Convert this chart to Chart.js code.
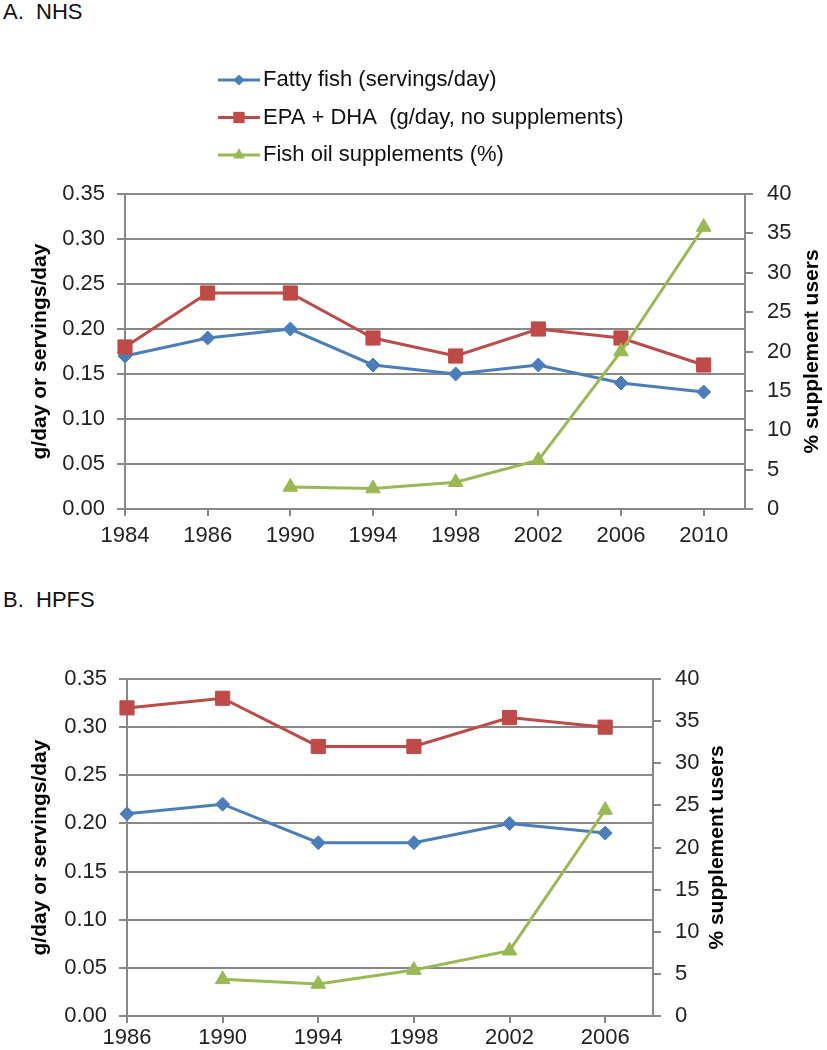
<!DOCTYPE html>
<html>
<head>
<meta charset="utf-8">
<title>Fish intake trends, NHS and HPFS</title>
<script src="https://cdn.jsdelivr.net/npm/chart.js@4.4.1/dist/chart.umd.min.js"></script>
<style>
  html, body { margin: 0; padding: 0; background: #fff; }
  body { width: 827px; height: 1050px; position: relative; overflow: hidden;
         font-family: "Liberation Sans", Arial, sans-serif; }
  .panel-label { position: absolute; left: 3px; font-size: 22px; line-height: 26px;
                 color: #111; white-space: pre; }
  .box { position: absolute; left: 0; width: 827px; }
</style>
</head>
<body>
<div class="panel-label" style="top:-1px">A.  NHS</div>
<div class="box" style="top:0;height:560px"><canvas id="chartA" width="827" height="560"></canvas></div>
<div class="panel-label" style="top:587px">B.  HPFS</div>
<div class="box" style="top:560px;height:490px"><canvas id="chartB" width="827" height="490"></canvas></div>

<script>
// --- data ---
const seriesNames = ['Fatty fish (servings/day)', 'EPA + DHA  (g/day, no supplements)', 'Fish oil supplements (%)'];

const yearsA = ['1984', '1986', '1990', '1994', '1998', '2002', '2006', '2010'];
const fattyFishA = [0.17, 0.19, 0.20, 0.16, 0.15, 0.16, 0.14, 0.13];
const epaDhaA = [0.18, 0.24, 0.24, 0.19, 0.17, 0.20, 0.19, 0.16];
const fishOilA = [null, null, 2.8, 2.6, 3.4, 6.2, 20.0, 35.8];

const yearsB = ['1986', '1990', '1994', '1998', '2002', '2006'];
const fattyFishB = [0.21, 0.22, 0.18, 0.18, 0.20, 0.19];
const epaDhaB = [0.32, 0.33, 0.28, 0.28, 0.31, 0.30];
const fishOilB = [null, 4.35, 3.8, 5.45, 7.75, 24.45];

const leftTicks = [0, 0.05, 0.10, 0.15, 0.20, 0.25, 0.30, 0.35];
const rightTicks = [0, 5, 10, 15, 20, 25, 30, 35, 40];

const FONT = '"Liberation Sans", Arial, sans-serif';
const GRID = '#888888';
const colors = ['#4A7EBB', '#BE4B48', '#98B954'];
const markers = ['rectRot', 'rect', 'triangle'];

function drawMarker(ctx, style, x, y, r) {
  ctx.beginPath();
  if (style === 'rectRot') {
    ctx.moveTo(x, y - r); ctx.lineTo(x + r, y); ctx.lineTo(x, y + r); ctx.lineTo(x - r, y);
  } else if (style === 'rect') {
    const s = r * Math.SQRT1_2;
    ctx.rect(x - s, y - s, 2 * s, 2 * s);
  } else {
    const h = r * Math.sqrt(3) / 2;
    ctx.moveTo(x, y - r); ctx.lineTo(x + h, y + r / 2); ctx.lineTo(x - h, y + r / 2);
  }
  ctx.closePath();
  ctx.fill();
}

// axis titles (reading bottom to top on both sides) and the stacked legend
const decorations = {
  id: 'decorations',
  afterDraw(chart, args, opts) {
    const ctx = chart.ctx;
    const area = chart.chartArea;
    const midY = (area.top + area.bottom) / 2;
    ctx.save();
    ctx.fillStyle = '#000';
    ctx.font = 'bold 21px ' + FONT;
    ctx.textAlign = 'center';
    ctx.textBaseline = 'middle';
    [[opts.leftTitleX, 'g/day or servings/day'], [opts.rightTitleX, '% supplement users']].forEach(function (t) {
      ctx.save();
      ctx.translate(t[0], midY);
      ctx.rotate(-Math.PI / 2);
      ctx.fillText(t[1], 0, 0);
      ctx.restore();
    });

    if (opts.legend) {
      const lg = opts.legend;
      ctx.font = '22px ' + FONT;
      ctx.textAlign = 'left';
      chart.data.datasets.forEach(function (ds, i) {
        const y = lg.y0 + i * lg.gap;
        ctx.strokeStyle = ds.borderColor;
        ctx.lineWidth = 3;
        ctx.beginPath();
        ctx.moveTo(lg.x0, y);
        ctx.lineTo(lg.x1, y);
        ctx.stroke();
        ctx.fillStyle = ds.backgroundColor;
        drawMarker(ctx, ds.pointStyle, (lg.x0 + lg.x1) / 2, y, ds.pointRadius * 0.8);
        ctx.fillStyle = '#111';
        ctx.fillText(ds.label, lg.x1 + 3, y);
      });
    }
    ctx.restore();
  }
};

function makeChart(id, years, fatty, epa, oil, L) {
  const series = [fatty, epa, oil];
  const radii = [7, 10, 8.5];
  const datasets = series.map(function (values, k) {
    return {
      label: seriesNames[k],
      data: years.map(function (_, i) { return { x: i, y: values[i] }; }),
      yAxisID: k === 2 ? 'y1' : 'y',
      borderColor: colors[k],
      backgroundColor: colors[k],
      borderWidth: 3,
      pointStyle: markers[k],
      pointRadius: radii[k],
      pointBorderWidth: 1,
      pointBorderColor: colors[k],
      pointBackgroundColor: colors[k],
      tension: 0,
      spanGaps: false,
      clip: false,
      order: 3 - k
    };
  });

  const tickFont = { family: FONT, size: 22 };

  return new Chart(document.getElementById(id), {
    type: 'line',
    data: { datasets: datasets },
    options: {
      responsive: false,
      animation: false,
      layout: { padding: { top: L.top, bottom: L.bottom, left: 0, right: 0 } },
      plugins: {
        legend: { display: false },
        tooltip: { enabled: false },
        decorations: { leftTitleX: L.leftTitleX, rightTitleX: L.rightTitleX, legend: L.legend }
      },
      scales: {
        x: {
          type: 'linear',
          min: 0,
          max: years.length - 0.5,
          afterBuildTicks: function (s) { s.ticks = years.map(function (_, i) { return { value: i }; }); },
          ticks: {
            callback: function (v) { return years[v]; },
            font: tickFont, color: '#222', padding: L.xPad, maxRotation: 0, autoSkip: false
          },
          grid: { drawOnChartArea: false, drawTicks: true, tickLength: 7, color: GRID, lineWidth: 2 },
          border: { color: GRID, width: 2 },
          afterFit: function (s) { s.height = L.xHeight; }
        },
        y: {
          position: 'left',
          min: leftTicks[0],
          max: leftTicks[leftTicks.length - 1],
          afterBuildTicks: function (s) { s.ticks = leftTicks.map(function (v) { return { value: v }; }); },
          ticks: { callback: function (v) { return v.toFixed(2); }, font: tickFont, color: '#222', padding: 12 },
          grid: { color: GRID, lineWidth: 2, tickLength: 8, drawTicks: true },
          border: { color: GRID, width: 2 },
          afterFit: function (s) { s.width = L.left; }
        },
        y1: {
          position: 'right',
          min: rightTicks[0],
          max: rightTicks[rightTicks.length - 1],
          afterBuildTicks: function (s) { s.ticks = rightTicks.map(function (v) { return { value: v }; }); },
          ticks: { callback: function (v) { return String(v); }, font: tickFont, color: '#222', padding: 14 },
          grid: { drawOnChartArea: false, color: GRID, lineWidth: 2, tickLength: 8, drawTicks: true },
          border: { color: GRID, width: 2 },
          afterFit: function (s) { s.width = L.right; }
        }
      }
    },
    plugins: [decorations]
  });
}

makeChart('chartA', yearsA, fattyFishA, epaDhaA, fishOilA, {
  top: 194, bottom: 6, xHeight: 45, xPad: 7, left: 125, right: 82,
  leftTitleX: 40, rightTitleX: 812,
  legend: { x0: 218, x1: 260, y0: 80, gap: 37.5 }
});

makeChart('chartB', yearsB, fattyFishB, epaDhaB, fishOilB, {
  top: 119, bottom: 4, xHeight: 30, xPad: 2, left: 127, right: 174,
  leftTitleX: 40, rightTitleX: 717,
  legend: null
});
</script>
</body>
</html>
